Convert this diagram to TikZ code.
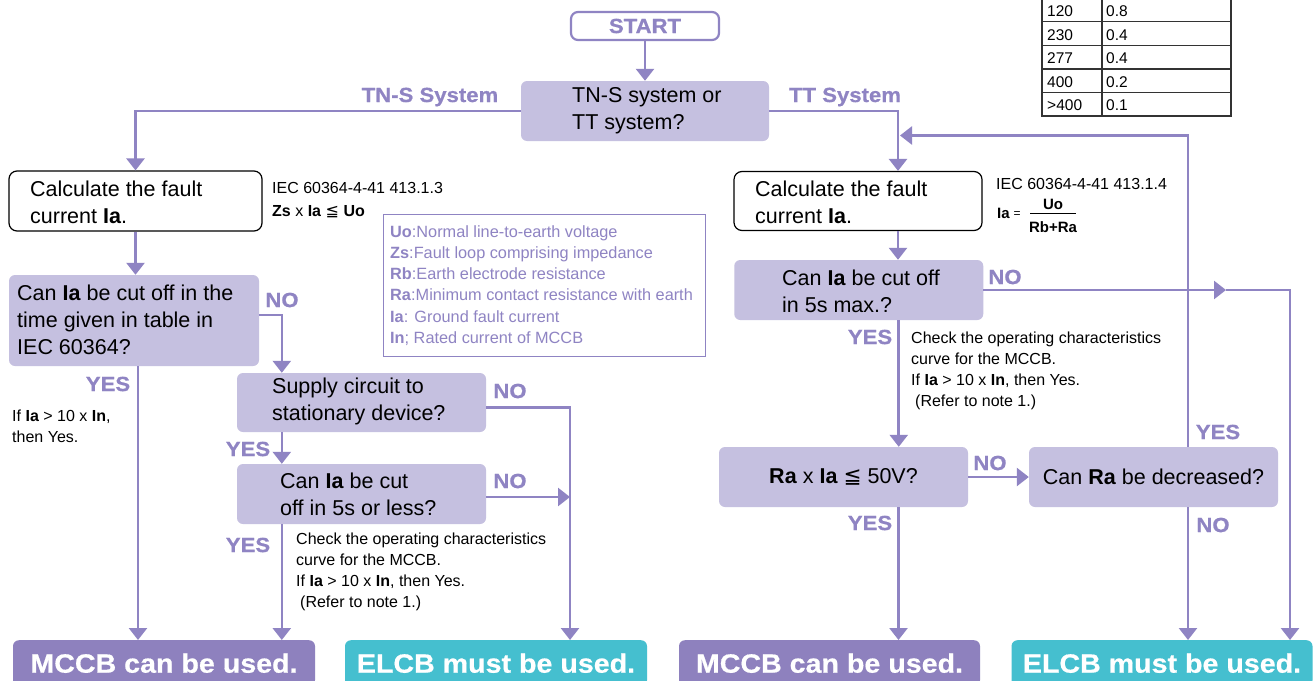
\documentclass[tikz,border=0pt]{standalone}
\usepackage{fontspec}
\setmainfont{Liberation Sans}
\newfontfamily\heavy{Liberation Sans}[FakeStretch=1.08,FakeBold=0.6]
\newfontfamily\symf{DejaVu Sans}
\usetikzlibrary{arrows.meta}
\definecolor{boxfill}{HTML}{C5C0E0}
\definecolor{lc}{HTML}{8F84C3}
\definecolor{mccbc}{HTML}{8E81BE}
\definecolor{elcbc}{HTML}{45BFCF}
\definecolor{tabc}{HTML}{333333}
\newcommand{\myle}{{\symf ≦}}
\begin{document}
\begin{tikzpicture}[x=1pt,y=-1pt,
  conn/.style={draw=lc, line width=2.6pt},
  arr/.style={conn, -{Triangle[width=18pt,length=12pt]}},
  qbox/.style={fill=boxfill, rounded corners=6pt, inner sep=0pt},
  wbox/.style={draw=black, line width=1.2pt, fill=white, rounded corners=8pt, inner sep=0pt},
  maintxt/.style={font=\fontsize{21.5}{27}\selectfont, align=left, inner sep=0pt, text=black},
  smalltxt/.style={font=\fontsize{16}{21}\selectfont, align=left, inner sep=0pt, text=black},
  lab/.style={font=\heavy\bfseries\fontsize{20.5}{24}\selectfont, text=lc, inner sep=0pt},
  endbox/.style={rounded corners=6pt, inner sep=0pt, minimum height=46pt, anchor=north, text=white, font=\heavy\bfseries\fontsize{26.5}{30}\selectfont},
  tabtxt/.style={font=\fontsize{15.5}{18}\selectfont, inner sep=0pt, anchor=west, text=black},
  tabline/.style={draw=tabc, line width=1.3pt},
]
\useasboundingbox (0,0) rectangle (1316,680);
\fill[white] (0,0) rectangle (1316,680);

% ---------- table ----------
\draw[tabline] (1042,-5) -- (1042,116) -- (1231,116) -- (1231,-5);
\draw[tabline] (1102,-5) -- (1102,116);
\foreach \yy in {21.7,45.7,69,92.3} \draw[tabline] (1042,\yy) -- (1231,\yy);
\node[tabtxt] (t1a) at (1047,11.5) {120};
\node[tabtxt] (t1b) at (1106,11.5) {0.8};
\node[tabtxt] (t2a) at (1047,35) {230};
\node[tabtxt] (t2b) at (1106,35) {0.4};
\node[tabtxt] (t3a) at (1047,58.3) {277};
\node[tabtxt] (t3b) at (1106,58.3) {0.4};
\node[tabtxt] (t4a) at (1047,81.7) {400};
\node[tabtxt] (t4b) at (1106,81.7) {0.2};
\node[tabtxt] (t5a) at (1047,105) {>400};
\node[tabtxt] (t5b) at (1106,105) {0.1};

% ---------- end boxes ----------
\node[endbox, fill=mccbc, minimum width=302pt] (m1) at (164,640) {MCCB can be used.};
\node[endbox, fill=elcbc, minimum width=302pt] (e1) at (496,640) {ELCB must be used.};
\node[endbox, fill=mccbc, minimum width=301pt] (m2) at (829.5,640) {MCCB can be used.};
\node[endbox, fill=elcbc, minimum width=301pt] (e2) at (1162,640) {ELCB must be used.};
\coordinate (e1in) at ([xshift=74pt]e1.north);
\coordinate (e2in) at ([xshift=128pt]e2.north);

% ---------- top ----------
\node[wbox, draw=lc, line width=2.2pt, rounded corners=7pt, minimum width=148pt, minimum height=28pt, lab] (start) at (645,26) {START};
\node[qbox, minimum width=248pt, minimum height=60pt] (d0) at (645,111) {};
\node[maintxt, anchor=west] (d0t) at (572,111) {TN-S system or\\TT system?};
\draw[arr] (start.south) -- (d0.north);
\node[lab] (tns) at (430,97) {TN-S System};
\node[lab] (tts) at (845,97) {TT System};

% ---------- left branch ----------
\node[wbox, minimum width=253pt, minimum height=60pt] (c1) at (135.5,201) {};
\node[maintxt, anchor=west] (c1t) at (30,202) {Calculate the fault\\current \textbf{Ia}.};
\draw[arr] (d0.west) -| (c1.north);
\node[smalltxt, anchor=west] (iec1) at (272,188) {IEC 60364-4-41 413.1.3};
\node[smalltxt, anchor=west] (f1) at (272,212) {\textbf{Zs} x \textbf{Ia} \myle\ \textbf{Uo}};

\node[draw=lc, line width=1.2pt, minimum width=322pt, minimum height=142pt, anchor=north west, inner sep=0pt] (leg) at (383,214) {};
\node[font=\fontsize{16.3}{21.2}\selectfont, align=left, inner sep=0pt, text=lc, anchor=west] (legt) at (390,285.5) {\textbf{Uo}:Normal line-to-earth voltage\\\textbf{Zs}:Fault loop comprising impedance\\\textbf{Rb}:Earth electrode resistance\\\textbf{Ra}:Minimum contact resistance with earth\\\textbf{Ia}: Ground fault current\\\textbf{In}; Rated current of MCCB};

\node[qbox, minimum width=250pt, minimum height=91pt] (q1) at (134,320.5) {};
\node[maintxt, anchor=west] (q1t) at (17,320) {Can \textbf{Ia} be cut off in the\\time given in table in\\IEC 60364?};
\draw[arr] (c1.south) -- (c1.south |- q1.north);

\node[qbox, minimum width=249pt, minimum height=59pt] (s1) at (361.5,402.5) {};
\node[maintxt, anchor=west] (s1t) at (272,401) {Supply circuit to\\stationary device?};
\node[qbox, minimum width=249pt, minimum height=60pt] (s2) at (361.5,494) {};
\node[maintxt, anchor=west] (s2t) at (280,494) {Can \textbf{Ia} be cut\\off in 5s or less?};

\node[lab] (no1) at (282,300) {NO};
\draw[arr] ([yshift=5.5pt]q1.east) -| ([xshift=45pt]s1.north west);
\node[lab] (yes1) at (108,384) {YES};
\node[smalltxt, anchor=west] (note1) at (12,426.5) {If \textbf{Ia} > 10 x \textbf{In},\\then Yes.};
\draw[arr] ([xshift=4pt]q1.south) -- ([xshift=4pt]q1.south |- m1.north);

\node[lab] (no2) at (510,391) {NO};
\draw[arr] ([yshift=-5pt]s1.east) -| (e1in);
\node[lab] (yes2) at (248,449) {YES};
\draw[arr] ([xshift=45pt]s1.south west) -- ([xshift=45pt]s2.north west);

\node[lab] (no3) at (510,481) {NO};
\coordinate (s2r) at ([yshift=-3pt]s2.east);
\draw[arr] (s2r) -- (s2r -| e1in);
\node[lab] (yes3) at (248,545) {YES};
\coordinate (s2b) at ([xshift=45pt]s2.south west);
\draw[arr] (s2b) -- (s2b |- m1.north);
\node[smalltxt, anchor=west] (chk1) at (296,571.5) {Check the operating characteristics\\curve for the MCCB.\\If \textbf{Ia} > 10 x \textbf{In}, then Yes.\\\hspace*{4pt}(Refer to note 1.)};

% ---------- right branch ----------
\node[wbox, minimum width=248pt, minimum height=59pt] (c2) at (858,201) {};
\node[maintxt, anchor=west] (c2t) at (755,202) {Calculate the fault\\current \textbf{Ia}.};
\draw[arr] (d0.east) -| ([xshift=40pt]c2.north);
\node[smalltxt, anchor=west] (iec2) at (996,184) {IEC 60364-4-41 413.1.4};
\node[font=\fontsize{15}{18}\selectfont\bfseries, inner sep=0pt, anchor=west] (fa) at (997,213) {Ia};
\node[font=\fontsize{12}{14}\selectfont, inner sep=0pt] (feq) at (1017,214.5) {=};
\node[font=\fontsize{15}{18}\selectfont\bfseries, inner sep=0pt] (fn) at (1053,204) {Uo};
\node[font=\fontsize{15}{18}\selectfont\bfseries, inner sep=0pt] (fd) at (1053,227) {Rb+Ra};
\draw[line width=1pt] (1030,213.5) -- (1076,213.5);

\node[qbox, minimum width=249pt, minimum height=60pt] (q2) at (858.75,290) {};
\node[maintxt, anchor=west] (q2t) at (782,291) {Can \textbf{Ia} be cut off\\in 5s max.?};
\draw[arr] ([xshift=40pt]c2.south) -- ([xshift=40pt]c2.south |- q2.north);

\node[lab] (no4) at (1005,277) {NO};
\coordinate (mid) at (1226,290);
\draw[arr] (q2.east) -- (q2.east -| mid);
\draw[arr] (q2.east -| mid) -| (e2in);

\node[qbox, minimum width=249pt, minimum height=60pt, maintxt, align=center] (r1) at (843.5,477) {\textbf{Ra} x \textbf{Ia} \myle\ 50V?};
\node[qbox, minimum width=249pt, minimum height=60pt, maintxt, align=center] (r2) at (1153.5,477) {Can \textbf{Ra} be decreased?};

\node[lab] (yes4) at (870,337) {YES};
\draw[arr] ([xshift=40pt]q2.south) -- ([xshift=40pt]q2.south |- r1.north);
\node[smalltxt, anchor=west] (chk2) at (911,370.5) {Check the operating characteristics\\curve for the MCCB.\\If \textbf{Ia} > 10 x \textbf{In}, then Yes.\\\hspace*{4pt}(Refer to note 1.)};

\node[lab] (no5) at (990,463) {NO};
\draw[arr] (r1.east) -- (r2.west);

\node[lab] (yes5) at (1218,432) {YES};
\coordinate (fbin) at (900,135.5);
\draw[arr] ([xshift=34.5pt]r2.north) |- (fbin);

\node[lab] (no6) at (1213,525) {NO};
\draw[arr] ([xshift=34.5pt]r2.south) -- ([xshift=34.5pt]r2.south |- e2.north);

\node[lab] (yes6) at (870,523) {YES};
\draw[arr] ([xshift=55pt]r1.south) -- ([xshift=55pt]r1.south |- m2.north);
\end{tikzpicture}
\end{document}
